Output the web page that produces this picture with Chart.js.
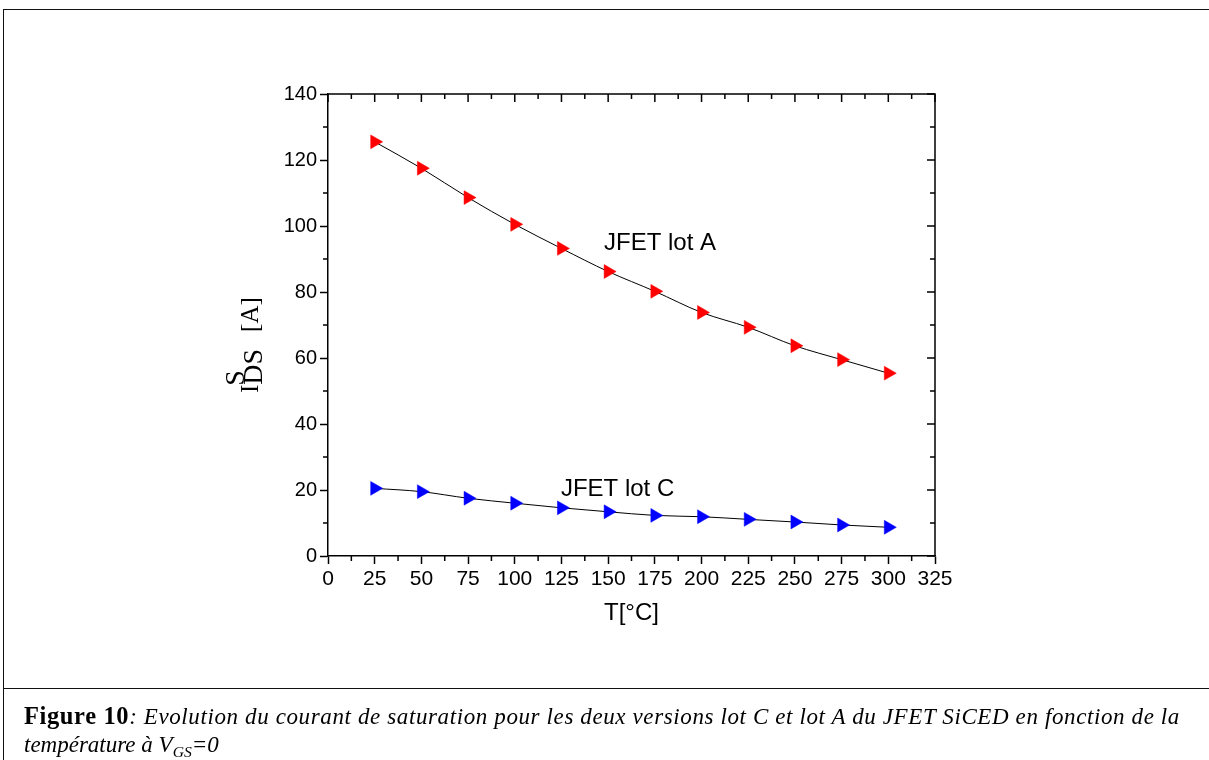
<!DOCTYPE html>
<html><head><meta charset="utf-8">
<script src="https://cdn.jsdelivr.net/npm/chart.js@4.4.0/dist/chart.umd.min.js"></script>
<style>
html,body{margin:0;padding:0;background:#fff;}
#wrap{position:relative;width:1209px;height:760px;overflow:hidden;background:#fff;}
#c{position:absolute;left:0;top:0;}
.hl{position:absolute;left:3px;right:0;height:1px;background:#111;}
.vl{position:absolute;left:3px;top:9px;bottom:0;width:1px;background:#111;}
.cap{position:absolute;left:24px;white-space:nowrap;font-family:"Liberation Serif","Times New Roman",serif;font-size:23px;line-height:28px;color:#000;}
.cap b{font-size:24.5px;}
#l1{top:702px;}
#l2{top:731px;}
.cap sub{font-size:68%;vertical-align:-0.3em;line-height:0;}
</style></head>
<body><div id="wrap"><canvas id="c" width="1209" height="760"></canvas>
<div class="hl" style="top:9px"></div><div class="hl" style="top:688px"></div><div class="vl"></div>
<div class="cap" id="l1"><b>Figure 10</b><i>: Evolution du courant de saturation pour les deux versions lot C et lot A du JFET SiCED en fonction de la</i></div>
<div class="cap" id="l2"><i>température à V<sub>GS</sub>=0</i></div>
</div>
<script>
// ---- data ----
const temperatures = [25, 50, 75, 100, 125, 150, 175, 200, 225, 250, 275, 300];
const lotA = [125.5, 117.5, 108.6, 100.5, 93.2, 86.2, 80.2, 73.8, 69.3, 63.7, 59.5, 55.4];
const lotC = [20.5, 19.5, 17.5, 16.0, 14.6, 13.4, 12.3, 11.9, 11.1, 10.3, 9.4, 8.7];
const seriesNames = ['JFET lot A', 'JFET lot C'];
const labelX = [147.8, 124.7];
const labelY = [94.8, 20.3];
const xMin = 0, xMax = 325, xMajor = 25, xMinor = 12.5;
const yMin = 0, yMax = 140, yMajor = 20, yMinor = 10;
const xTitle = 'T[°C]';

// the first caption line is justified to the text column width
(function () {
  const l1 = document.getElementById('l1');
  const target = 1156;
  const natural = l1.getBoundingClientRect().width;
  const n = l1.textContent.length;
  l1.style.letterSpacing = Math.max(0, (target - natural) / n) + 'px';
})();

const toXY = (xs, ys) => xs.map((x, i) => ({x: x, y: ys[i]}));

const frameTicks = {
  id: 'frameTicks',
  afterDatasetsDraw(chart) {
    const {ctx, chartArea: a, scales: {x, y}} = chart;
    ctx.save();
    ctx.strokeStyle = '#000';
    ctx.lineWidth = 1.5;
    ctx.beginPath();
    ctx.moveTo(a.left, a.top); ctx.lineTo(a.right, a.top); ctx.lineTo(a.right, a.bottom);
    ctx.stroke();
    ctx.beginPath();
    for (let v = xMin; v <= xMax + 1e-9; v += xMinor) {
      const p = x.getPixelForValue(v);
      const major = Math.abs(v / xMajor - Math.round(v / xMajor)) < 1e-9;
      const L = major ? 8 : 5;
      if (!major) { ctx.moveTo(p, a.bottom); ctx.lineTo(p, a.bottom + L); }
      ctx.moveTo(p, a.top); ctx.lineTo(p, a.top + L);
    }
    for (let v = yMin; v <= yMax + 1e-9; v += yMinor) {
      const p = y.getPixelForValue(v);
      const major = v % yMajor === 0;
      const L = major ? 8 : 5;
      if (!major) { ctx.moveTo(a.left, p); ctx.lineTo(a.left - L, p); }
      ctx.moveTo(a.right, p); ctx.lineTo(a.right - L, p);
    }
    ctx.stroke();
    // series labels
    ctx.fillStyle = '#000';
    ctx.font = '24px "Liberation Sans", Arial, sans-serif';
    ctx.textBaseline = 'middle';
    ctx.textAlign = 'left';
    seriesNames.forEach((n, i) => {
      ctx.fillText(n, x.getPixelForValue(labelX[i]), y.getPixelForValue(labelY[i]));
    });
    // y axis title  I^S_DS [A]
    ctx.translate(258, 393);
    ctx.rotate(-Math.PI / 2);
    ctx.textBaseline = 'alphabetic';
    ctx.font = '25px "Liberation Serif", "Times New Roman", serif';
    ctx.fillText('I', 0, 0);
    const w1 = ctx.measureText('I').width;
    ctx.font = '28px "Liberation Serif", "Times New Roman", serif';
    ctx.fillText('S', w1 - 1, -14);
    ctx.fillText('DS', w1, 4);
    const w2 = ctx.measureText('DS').width;
    ctx.font = '25px "Liberation Serif", "Times New Roman", serif';
    ctx.fillText('[A]', w1 + w2 + 17, 0);
    ctx.restore();
  }
};

new Chart(document.getElementById('c'), {
  type: 'line',
  data: {
    datasets: [
      {label: seriesNames[0], data: toXY(temperatures, lotA), borderColor: '#000', borderWidth: 1,
       pointStyle: 'triangle', rotation: 90, pointRadius: 8, pointBackgroundColor: '#ff0000', pointBorderColor: '#ff0000', pointBorderWidth: 0.5,
       tension: 0.4, cubicInterpolationMode: 'monotone', fill: false},
      {label: seriesNames[1], data: toXY(temperatures, lotC), borderColor: '#000', borderWidth: 1,
       pointStyle: 'triangle', rotation: 90, pointRadius: 8, pointBackgroundColor: '#0000ff', pointBorderColor: '#0000ff', pointBorderWidth: 0.5,
       tension: 0.4, cubicInterpolationMode: 'monotone', fill: false}
    ]
  },
  options: {
    responsive: false,
    animation: false,
    devicePixelRatio: 1,
    layout: {padding: {left: 258, right: 274, top: 94, bottom: 132}},
    plugins: {legend: {display: false}, tooltip: {enabled: false}},
    scales: {
      x: {
        type: 'linear', min: xMin, max: xMax,
        afterFit(s) { s.height = 72; },
        ticks: {stepSize: xMajor, color: '#000', padding: 3, maxRotation: 0, autoSkip: false,
                font: {family: '"Liberation Sans", Arial, sans-serif', size: 21}},
        grid: {drawOnChartArea: false, tickLength: 8, tickColor: '#000', tickWidth: 1.5},
        border: {display: true, color: '#000', width: 1.5},
        title: {display: true, text: xTitle, color: '#000', padding: 0,
                font: {family: '"Liberation Sans", Arial, sans-serif', size: 24}}
      },
      y: {
        type: 'linear', min: yMin, max: yMax,
        afterFit(s) { s.width = 70; },
        ticks: {stepSize: yMajor, color: '#000', padding: 3,
                font: {family: '"Liberation Sans", Arial, sans-serif', size: 20}},
        grid: {drawOnChartArea: false, tickLength: 8, tickColor: '#000', tickWidth: 1.5},
        border: {display: true, color: '#000', width: 1.5}
      }
    }
  },
  plugins: [frameTicks]
});
</script>
</body></html>
